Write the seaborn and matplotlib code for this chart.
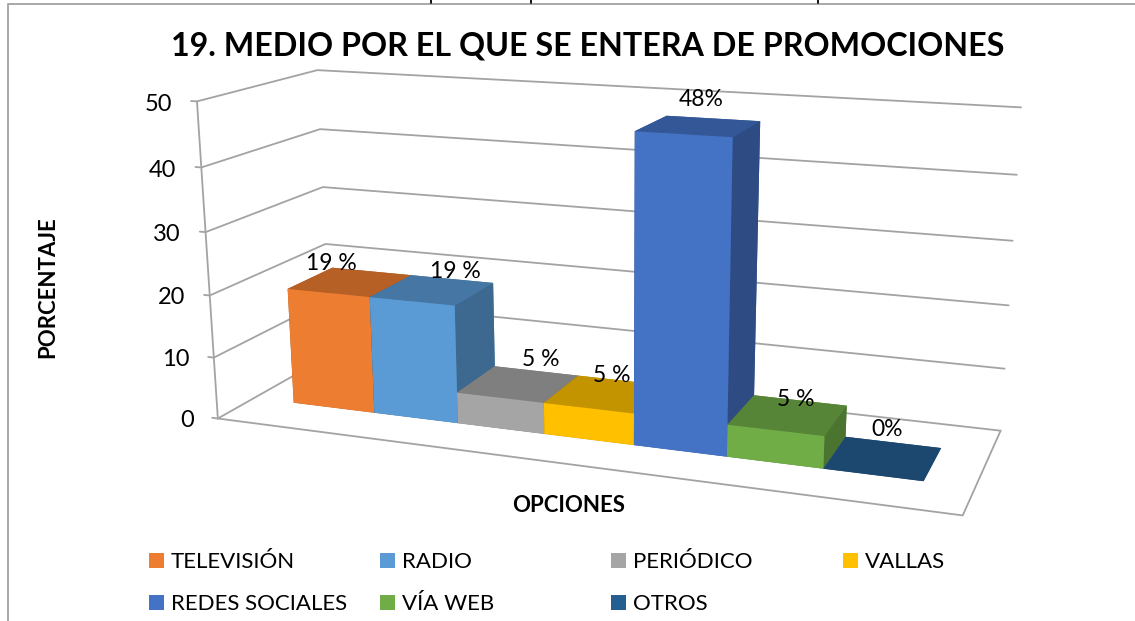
import matplotlib

matplotlib.use("Agg")

import matplotlib.pyplot as plt
import numpy as np
import seaborn as sns
from matplotlib.lines import Line2D
from matplotlib.patches import Rectangle
from matplotlib.transforms import Affine2D, IdentityTransform
from mpl_toolkits.mplot3d import proj3d


# datos
OPCIONES = ["TELEVISIÓN", "RADIO", "PERIÓDICO", "VALLAS", "REDES SOCIALES", "VÍA WEB", "OTROS"]
PORCENTAJE = [19, 19, 5, 5, 47.6, 5, 0]
ETIQUETAS = ["19 %", "19 %", "5 %", "5 %", "48%", "5 %", "0%"]
COLORES = ["#ED7D31", "#5B9BD5", "#A5A5A5", "#FFC000", "#4472C4", "#70AD47", "#255E91"]
TICKS = [0, 10, 20, 30, 40, 50]

TITULO = "19. MEDIO POR EL QUE SE ENTERA DE PROMOCIONES"

# layout, en pixeles de la imagen
W, H = 1135, 621
POS_ETIQUETAS = [(331, 262), (455, 270), (541, 357), (612, 373), (701, 97), (796, 397), (887, 428)]
COL_LEYENDA = [149, 380, 611, 843]
FILA_LEYENDA = [560, 602]
GRIS = "#a3a3a3"
X0, X1 = -1, 7
Y_BARRA = (0.30, 0.70)

# esquinas de la caja: (x, profundidad, z) -> pixel
CAJA = [
    ((X0, 0, 50), (197, 102)), ((X0, 0, 40), (201, 167)), ((X0, 0, 30), (206, 232)),
    ((X0, 0, 20), (210, 296)), ((X0, 0, 10), (214, 358)), ((X0, 0, 0), (217, 418)),
    ((X0, 1, 50), (317, 70)), ((X0, 1, 40), (320, 129)), ((X0, 1, 30), (323, 187)),
    ((X0, 1, 20), (326, 244)),
    ((X1, 1, 50), (1021, 107)), ((X1, 1, 40), (1017, 175)), ((X1, 1, 30), (1013, 241)),
    ((X1, 1, 20), (1008, 305)), ((X1, 1, 10), (1004, 369)), ((X1, 1, 0), (1001, 431)),
    ((X1, 0, 0), (963, 515)),
]

sns.set_theme(style="white")
plt.rcParams["font.family"] = ["Lato", "DejaVu Sans"]

pix = Affine2D().scale(1, -1).translate(0, H)


def ajustar_proyeccion(ax):
    """Homografia 3D -> 2D de los ejes, ajustada a las esquinas de la caja."""
    ax.apply_aspect()
    inv = ax.transData.inverted()
    filas = []
    for (x, y, z), (u, v) in CAJA:
        u, v = inv.transform(pix.transform((u, v)))
        filas.append([x, y, z, 1, 0, 0, 0, 0, -u * x, -u * y, -u * z, -u])
        filas.append([0, 0, 0, 0, x, y, z, 1, -v * x, -v * y, -v * z, -v])
    p = np.linalg.svd(np.array(filas))[2][-1].reshape(3, 4)
    if p[2] @ [X0, 0, 0, 1] < 0:
        p = -p
    p = p / (p[2] @ [X0, 0, 0, 1])
    return np.array([p[0], p[1], [0, 0, 0, -1], p[2]])


fig = plt.figure(figsize=(W / 100, H / 100), dpi=100)
fig.patch.set_facecolor("white")
lado = W / H
ax = fig.add_axes([0, (1 - lado) / 2, 1, lado], projection="3d")
ax.set_axis_off()
ax.patch.set_alpha(0)
ax.computed_zorder = False
M = ajustar_proyeccion(ax)
ax.get_proj = lambda: M

# paredes y piso
linea = dict(color=GRIS, lw=1.3, zorder=1)
for z in TICKS:
    ax.plot([X0 - 0.07, X0, X0, X1], [0, 0, 1, 1], [z] * 4, **linea)
ax.plot([X0, X0], [0, 0], [0, 50], **linea)
ax.plot([X0, X1, X1], [0, 0, 1], [0, 0, 0], **linea)

# barras
paleta = sns.color_palette(COLORES)
for i, (valor, color) in enumerate(zip(PORCENTAJE, paleta)):
    base = np.array(color)
    arriba = base * 0.77
    lado_b = base * 0.67
    # orden de caras en bar3d: -z, +z, -y, +y, -x, +x
    caras = [arriba, arriba, base, arriba, lado_b, lado_b]
    ax.bar3d(i - 0.5, Y_BARRA[0], 0, 1, Y_BARRA[1] - Y_BARRA[0], valor,
             color=caras, shade=False, zorder=2 + i, edgecolor="none")

# ticks del eje z, colocados con la misma proyeccion
for z in TICKS:
    u, v, _ = proj3d.proj_transform(X0 - 0.30, 0, z, M)
    dx, dy = ax.transData.transform((u, v))
    fig.text(dx, dy - 3, str(z), transform=IdentityTransform(),
             ha="right", va="center_baseline", fontsize=17, color="black")


def texto(x, y, s, va="center_baseline", **kw):
    fig.text(x, y, s, transform=pix, ha=kw.pop("ha", "center"), va=va, color="black", **kw)


texto(588, 43, TITULO, fontsize=23.2, fontweight="bold")
texto(48, 287, "PORCENTAJE", va="center", fontsize=16, fontweight="bold", rotation=90)
texto(569, 504, "OPCIONES", fontsize=16, fontweight="bold")

for (x, y), s in zip(POS_ETIQUETAS, ETIQUETAS):
    texto(x, y, s, fontsize=16.5)

# leyenda
for i, (nombre, color) in enumerate(zip(OPCIONES, paleta)):
    x = COL_LEYENDA[i % 4]
    y = FILA_LEYENDA[i // 4]
    fig.add_artist(Rectangle((x, y - 7.5), 15, 15, transform=pix, facecolor=color, edgecolor="none"))
    texto(x + 22, y, nombre, fontsize=16, ha="left")

# borde del grafico y restos de la linea de texto cortada arriba
fig.add_artist(Line2D([8, 8, W], [H, 3.5, 3.5], transform=pix, color="#a8a8a8", lw=1.4))
for x in [431, 531, 818]:
    fig.add_artist(Line2D([x, x], [0, 3], transform=pix, color="black", lw=1.3))

fig.savefig("out.png", dpi=100)
